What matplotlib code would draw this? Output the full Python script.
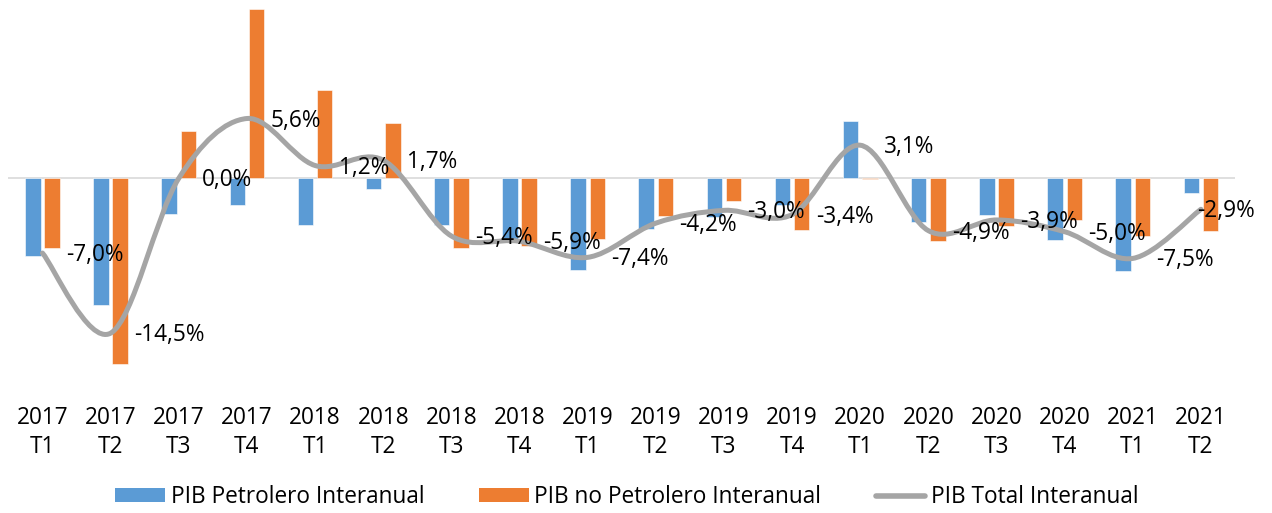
import matplotlib
matplotlib.use("Agg")
import matplotlib.pyplot as plt
from matplotlib.path import Path
from matplotlib.patches import PathPatch, Patch
from matplotlib.lines import Line2D
import matplotlib.transforms as mtransforms

plt.rcParams['font.family'] = ['Open Sans', 'DejaVu Sans']

years = ["2017", "2017", "2017", "2017", "2018", "2018", "2018", "2018",
         "2019", "2019", "2019", "2019", "2020", "2020", "2020", "2020",
         "2021", "2021"]
quarters = ["T1", "T2", "T3", "T4", "T1", "T2", "T3", "T4",
            "T1", "T2", "T3", "T4", "T1", "T2", "T3", "T4", "T1", "T2"]
petrolero = [-7.3, -11.9, -3.3, -2.5, -4.4, -1.0, -4.4, -5.9,
             -8.6, -4.7, -3.6, -2.5, 5.4, -4.1, -3.4, -5.8, -8.7, -1.4]
no_petrolero = [-6.5, -17.4, 4.4, 15.9, 8.3, 5.2, -6.5, -6.3,
                -5.7, -3.5, -2.1, -4.8, -0.1, -5.9, -4.5, -3.9, -5.4, -4.9]
total = [-7.0, -14.5, 0.0, 5.6, 1.2, 1.7, -5.4, -5.9,
         -7.4, -4.2, -3.0, -3.4, 3.1, -4.9, -3.9, -5.0, -7.5, -2.9]
series_names = ["PIB Petrolero Interanual", "PIB no Petrolero Interanual", "PIB Total Interanual"]

C_BLUE = "#5B9BD5"
C_ORANGE = "#ED7D31"
C_GRAY = "#A5A5A5"
FS = 16.3

W, H = 1272, 513
fig = plt.figure(figsize=(W / 100, H / 100), dpi=100)
ax = fig.add_axes([8.4 / W, (H - 391.9) / H, 1226.6 / W, 389.8 / H])

n = len(total)
x = list(range(n))
bw = 0.227
off = 0.141
ax.bar([i - off for i in x], petrolero, width=bw, color=C_BLUE,
       edgecolor="white", linewidth=0.4, zorder=2)
ax.bar([i + off for i in x], no_petrolero, width=bw, color=C_ORANGE,
       edgecolor="white", linewidth=0.4, zorder=2)

ax.axhline(0, color="#D9D9D9", linewidth=1.2, zorder=1)

# smooth line (Bezier through the data points, like a spreadsheet smoothed line)
pts = list(zip(x, total))
verts = [pts[0]]
codes = [Path.MOVETO]
for i in range(n - 1):
    p0 = pts[i - 1] if i > 0 else pts[i]
    p1 = pts[i]
    p2 = pts[i + 1]
    p3 = pts[i + 2] if i + 2 < n else pts[i + 1]
    c1 = (p1[0] + (p2[0] - p0[0]) / 6.0, p1[1] + (p2[1] - p0[1]) / 6.0)
    c2 = (p2[0] - (p3[0] - p1[0]) / 6.0, p2[1] - (p3[1] - p1[1]) / 6.0)
    verts += [c1, c2, p2]
    codes += [Path.CURVE4, Path.CURVE4, Path.CURVE4]
ax.add_patch(PathPatch(Path(verts, codes), facecolor="none", edgecolor=C_GRAY,
                       linewidth=3.6, capstyle="round", joinstyle="round", zorder=3))

for i, v in enumerate(total):
    dx = 17.0 if i < n - 1 else -2.5
    ax.annotate(f"{v:.1f}%".replace(".", ","), (i, v), xytext=(dx, -1.5),
                textcoords="offset points", ha="left", va="center",
                fontsize=FS, color="black", zorder=4, annotation_clip=False)

ax.set_xlim(-0.5, n - 0.5)
ax.set_ylim(-20, 16.5)
ax.axis("off")

trans = mtransforms.blended_transform_factory(ax.transData, fig.transFigure)
for i in range(n):
    ax.text(i, 1 - 418 / H, years[i], transform=trans, ha="center", va="center",
            fontsize=FS, color="black", clip_on=False)
    ax.text(i, 1 - 447 / H, quarters[i], transform=trans, ha="center", va="center",
            fontsize=FS, color="black", clip_on=False)

handles = [Patch(facecolor=C_BLUE, edgecolor="none"),
           Patch(facecolor=C_ORANGE, edgecolor="none"),
           Line2D([0], [0], color=C_GRAY, linewidth=4, solid_capstyle="round")]
fig.legend(handles, series_names, loc="center", bbox_to_anchor=(627 / W, 1 - 497 / H),
           ncol=3, frameon=False, fontsize=FS, handlelength=2.2, handleheight=0.55,
           handletextpad=0.25, columnspacing=2.4)

fig.savefig("out.png", dpi=100)
